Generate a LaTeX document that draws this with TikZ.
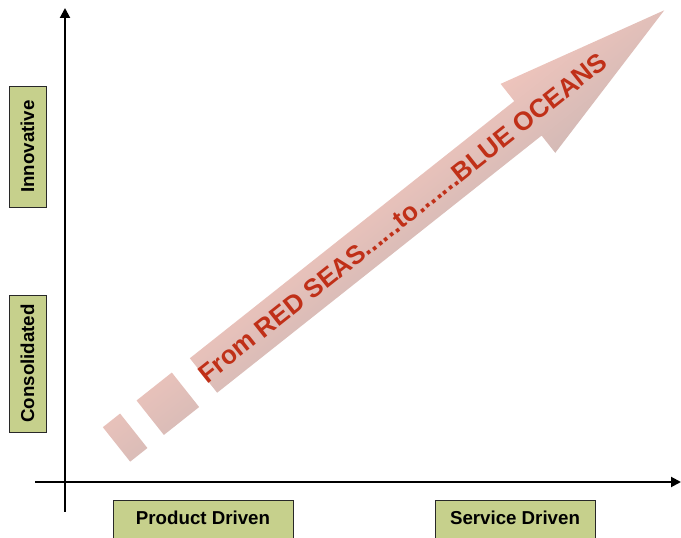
\documentclass[tikz,border=0pt]{standalone}
\usepackage{fontspec}
\setmainfont{Liberation Sans}
\usetikzlibrary{arrows.meta,calc}
\definecolor{boxgreen}{RGB}{198,208,140}
\definecolor{boxline}{RGB}{40,40,40}
\definecolor{arrowtop}{RGB}{238,196,188}
\definecolor{arrowbot}{RGB}{212,186,182}
\definecolor{seatext}{RGB}{192,48,24}
\tikzset{
  labelbox/.style={draw=boxline, line width=0.9pt, fill=boxgreen, inner sep=0pt,
    font=\fontsize{18.7}{20}\selectfont\bfseries, text=black},
  axisline/.style={line width=2pt, -{Triangle[length=10pt,width=10pt]}},
  bigarrow/.style={top color=arrowtop, bottom color=arrowbot, draw=none},
  seas/.style={font=\fontsize{26}{27}\selectfont\bfseries, text=seatext, inner sep=0pt}
}
\begin{document}
\begin{tikzpicture}[x=1pt,y=1pt]
\useasboundingbox (0,0) rectangle (681,538);
% axes
\coordinate (ybot) at (65,26);
\coordinate (ytop) at (65,530);
\coordinate (xleft) at (35,56);
\coordinate (xright) at (681,56);
\draw[axisline] (ybot) -- (ytop);
\draw[axisline] (xleft) -- (xright);
% labels
\node[labelbox, minimum width=37pt, minimum height=121pt] (innov) at (27.5,391.5) {};
\node[rotate=90, font=\fontsize{18.7}{20}\selectfont\bfseries] (innovt) at (innov.center) {Innovative};
\node[labelbox, minimum width=37pt, minimum height=137pt] (cons) at (27.5,174.5) {};
\node[rotate=90, font=\fontsize{18.7}{20}\selectfont\bfseries] (const) at (cons.center) {Consolidated};
\node[labelbox, minimum width=180pt, minimum height=40pt] (prod) at (203,18) {};
\node[font=\fontsize{18.7}{20}\selectfont\bfseries] (prodt) at (203,20) {Product Driven};
\node[labelbox, minimum width=160pt, minimum height=40pt] (serv) at (515,18) {};
\node[font=\fontsize{18.7}{20}\selectfont\bfseries] (servt) at (515,20) {Service Driven};
% big arrow
\begin{scope}[transform canvas={shift={(203.5pt,162.5pt)}, rotate=38.4}]
  \path[bigarrow]
    (-111,-22) rectangle (-89,22)
    (-68,-22) rectangle (-23,22)
    (0,-22) -- (414,-22) -- (414,-44) -- (588,0) -- (414,44) -- (414,22) -- (0,22) -- cycle;
\end{scope}
\node[seas, rotate=38.4] (seastext) at ($(203.5,162.5)+(38.4:254)$) {From RED SEAS......to.......BLUE OCEANS};
\end{tikzpicture}
\end{document}
